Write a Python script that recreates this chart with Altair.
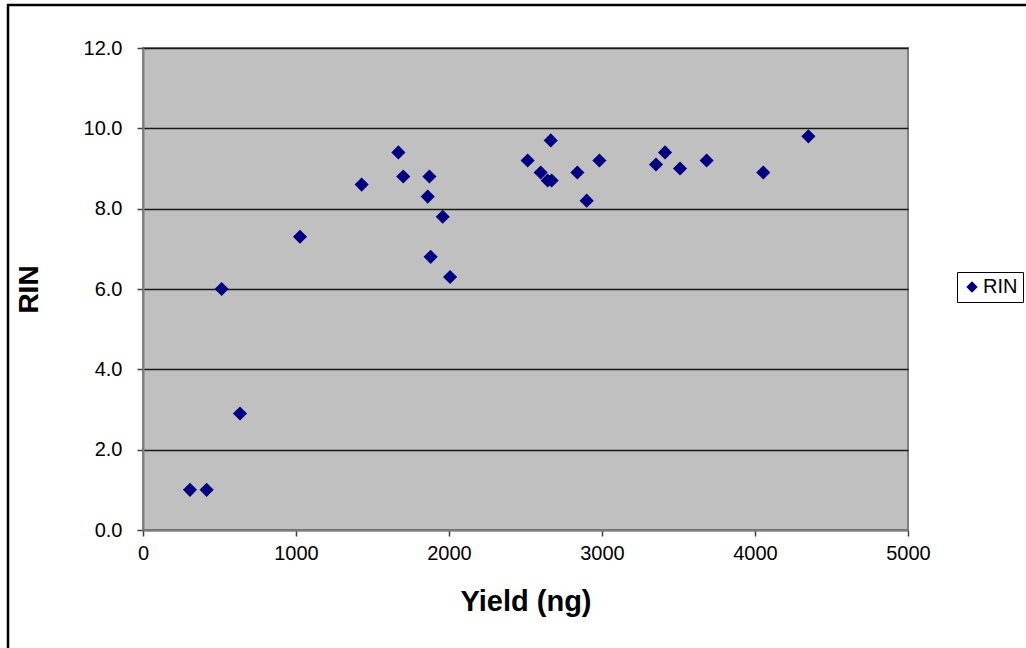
import altair as alt
import pandas as pd

# RNA yield (ng) against RNA integrity number
yield_ng = [307, 416, 514, 634, 1026, 1429, 1669, 1701, 1861, 1872, 1880,
            1959, 2007, 2514, 2599, 2645, 2665, 2671, 2839, 2900, 2983,
            3353, 3412, 3510, 3684, 4054, 4349]
rin = [1.0, 1.0, 6.0, 2.9, 7.3, 8.6, 9.4, 8.8, 8.3, 8.8, 6.8,
       7.8, 6.3, 9.2, 8.9, 8.7, 9.7, 8.7, 8.9, 8.2, 9.2,
       9.1, 9.4, 9.0, 9.2, 8.9, 9.8]
series = ["RIN"] * len(rin)

df = pd.DataFrame({"Yield": yield_ng, "RIN": rin, "Series": series})

W, H = 765, 482
LEFT, TOP = 143, 48
FONT = "Liberation Sans"

points = alt.Chart(df).mark_point(filled=True, size=200, opacity=1).encode(
    x=alt.X("Yield:Q", scale=alt.Scale(domain=[0, 5000], nice=False),
            axis=alt.Axis(title="Yield (ng)", values=[0, 1000, 2000, 3000, 4000, 5000],
                          format="d", grid=False, labelFlush=False,
                          labelFont=FONT, labelFontSize=20, labelColor="#000000",
                          labelPadding=7, titlePadding=24,
                          titleFont=FONT, titleFontSize=29, titleFontWeight="bold",
                          titleColor="#000000")),
    y=alt.Y("RIN:Q", scale=alt.Scale(domain=[0, 12], nice=False),
            axis=alt.Axis(title="RIN", values=[0, 2, 4, 6, 8, 10, 12], format=".1f",
                          grid=True, labelFlush=False,
                          labelFont=FONT, labelFontSize=20, labelColor="#000000",
                          labelPadding=15, titlePadding=40,
                          titleFont=FONT, titleFontSize=28, titleFontWeight="bold",
                          titleColor="#000000")),
    color=alt.Color("Series:N", scale=alt.Scale(range=["#000080"]),
                    legend=alt.Legend(title=None, orient="none",
                                      legendX=957 - LEFT, legendY=272 - TOP,
                                      strokeColor="#000000", padding=5,
                                      symbolSize=130, labelFontSize=20,
                                      labelOffset=1, columnPadding=0,
                                      labelColor="#000000", labelFont=FONT)),
    shape=alt.Shape("Series:N", scale=alt.Scale(range=["diamond"]), legend=None),
)

# outer frame around the whole figure
frame = alt.Chart(pd.DataFrame({"k": [0]})).mark_rect(
    fill=None, stroke="#000000", strokeWidth=2.5
).encode(
    x=alt.value(8 - LEFT), x2=alt.value(1040 - LEFT),
    y=alt.value(5 - TOP), y2=alt.value(660 - TOP),
)

chart = alt.layer(frame, points).properties(
    width=W, height=H,
    autosize=alt.AutoSizeParams(type="none"),
    padding={"left": LEFT, "top": TOP, "right": 1026 - LEFT - W, "bottom": 648 - TOP - H},
    background="#ffffff",
).configure_view(
    fill="#c0c0c0", stroke="#808080", strokeWidth=2
).configure_axis(
    domainColor="#808080", domainWidth=2,
    tickColor="#404040", tickSize=6, tickWidth=1.5,
    gridColor="#1a1a1a", gridWidth=1.3, gridOpacity=1,
)

chart.save("out.html", embed_options={"renderer": "svg", "actions": False})
